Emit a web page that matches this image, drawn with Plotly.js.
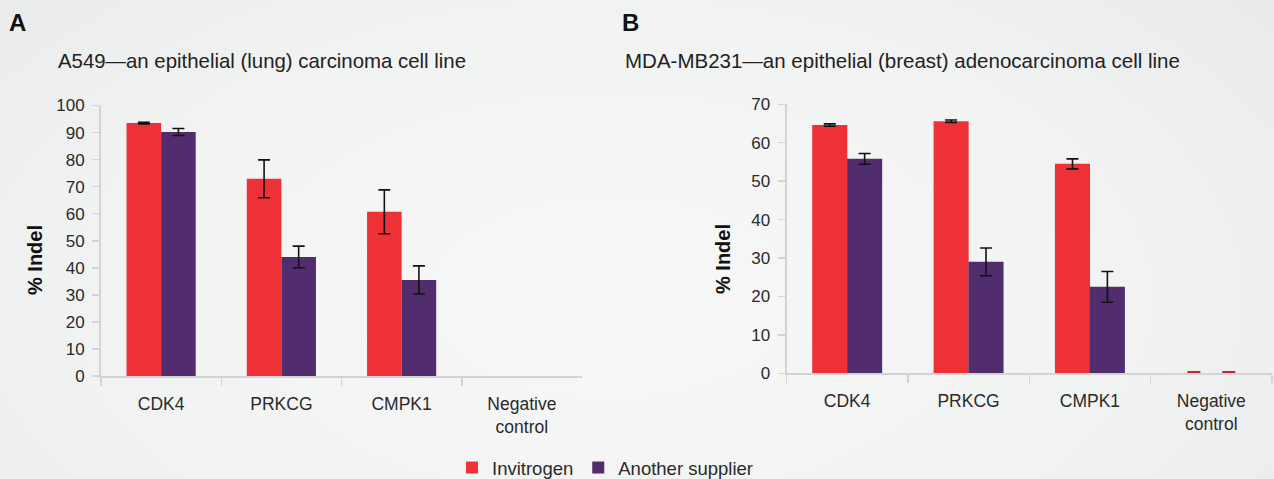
<!DOCTYPE html>
<html>
<head>
<meta charset="utf-8">
<script src="https://cdn.plot.ly/plotly-3.0.1.min.js"></script>
<style>
  html, body { margin: 0; padding: 0; }
  body {
    width: 1274px; height: 479px; overflow: hidden;
    background: radial-gradient(ellipse 75% 110% at 48% 62%, #f8f8f8 0%, #f1f2f2 55%, #e7e8e9 100%);
  }
  #chart { width: 1274px; height: 479px; }
</style>
</head>
<body>
<div id="chart"></div>
<script>
// ---- data ----
const categories = ['CDK4', 'PRKCG', 'CMPK1', 'Negative<br>control'];
const seriesNames = ['Invitrogen', 'Another supplier'];

// error arrays cover the three gene targets only (no error shown for the negative control)
const a549Invitrogen    = [93.5, 72.9, 60.7, 0];
const a549InvitrogenErr = [0.3, 7.0, 8.1];
const a549Other         = [90.2, 44.0, 35.5, 0];
const a549OtherErr      = [1.3, 4.0, 5.2];

const mdaInvitrogen     = [64.6, 65.6, 54.5, 0.6];
const mdaInvitrogenErr  = [0.3, 0.3, 1.3];
const mdaOther          = [55.8, 29.0, 22.5, 0.6];
const mdaOtherErr       = [1.4, 3.6, 4.0];

const panelTitles = ['A549\u2014an epithelial (lung) carcinoma cell line',
                     'MDA-MB231\u2014an epithelial (breast) adenocarcinoma cell line'];
const panelLetters = ['A', 'B'];
const yTitle = '% Indel';

// ---- style ----
const RED = '#ee3037';
const PURPLE = '#512d6d';
const NEG = '#c0283a';
const FONT = '"Liberation Sans", Arial, Helvetica, sans-serif';
const errStyle = { color: '#111111', thickness: 1.6, width: 6 };

function err(arr) { return Object.assign({ type: 'data', array: arr, visible: true }, errStyle); }

const traces = [
  { type: 'bar', name: seriesNames[0], x: categories, y: a549Invitrogen, xaxis: 'x', yaxis: 'y',
    marker: { color: RED }, error_y: err(a549InvitrogenErr), offsetgroup: '1', legendgroup: 'inv' },
  { type: 'bar', name: seriesNames[1], x: categories, y: a549Other, xaxis: 'x', yaxis: 'y',
    marker: { color: PURPLE }, error_y: err(a549OtherErr), offsetgroup: '2', legendgroup: 'oth' },
  { type: 'bar', name: seriesNames[0], x: categories, y: mdaInvitrogen, xaxis: 'x2', yaxis: 'y2',
    marker: { color: [RED, RED, RED, NEG] }, width: [0.289, 0.289, 0.289, 0.107],
    error_y: err(mdaInvitrogenErr), offsetgroup: '1', legendgroup: 'inv', showlegend: false },
  { type: 'bar', name: seriesNames[1], x: categories, y: mdaOther, xaxis: 'x2', yaxis: 'y2',
    marker: { color: [PURPLE, PURPLE, PURPLE, NEG] }, width: [0.289, 0.289, 0.289, 0.107],
    error_y: err(mdaOtherErr), offsetgroup: '2', legendgroup: 'oth', showlegend: false }
];

const xBase = {
  type: 'category', range: [-0.5, 3.5], showline: true, linecolor: '#d3d3d3', linewidth: 2,
  ticks: 'outside', tickson: 'boundaries', ticklen: 8, tickcolor: '#d3d3d3', tickwidth: 1.5,
  showgrid: false, zeroline: false, ticklabelstandoff: 11,
  tickfont: { family: FONT, size: 17.5, color: '#2a2a2a' }, fixedrange: true
};
const yBase = {
  showline: true, linecolor: '#d3d3d3', linewidth: 2, ticks: 'outside', ticklen: 7,
  tickcolor: '#d3d3d3', tickwidth: 1.5, showgrid: false, zeroline: false, dtick: 10,
  ticklabelstandoff: 4, tickfont: { family: FONT, size: 17, color: '#2a2a2a' }, fixedrange: true
};

const W = 1274, H = 479;
const layout = {
  width: W, height: H,
  margin: { l: 0, r: 0, t: 0, b: 0, autoexpand: false },
  paper_bgcolor: 'rgba(0,0,0,0)', plot_bgcolor: 'rgba(0,0,0,0)',
  barmode: 'group', bargap: 0.425, bargroupgap: 0,
  font: { family: FONT, color: '#222' },
  xaxis: Object.assign({}, xBase, { domain: [101 / W, 582 / W], anchor: 'y' }),
  yaxis: Object.assign({}, yBase, { domain: [(H - 376) / H, (H - 105.5) / H], range: [0, 100], anchor: 'x' }),
  xaxis2: Object.assign({}, xBase, { domain: [786.5 / W, 1272 / W], anchor: 'y2' }),
  yaxis2: Object.assign({}, yBase, { domain: [(H - 373.3) / H, (H - 104.3) / H], range: [0, 70], anchor: 'x2' }),
  showlegend: true,
  legend: {
    orientation: 'h', x: 605 / W, xanchor: 'center', y: 1 - 468 / H, yanchor: 'middle',
    font: { family: FONT, size: 18.5, color: '#2a2a2a' }, itemwidth: 30, bgcolor: 'rgba(0,0,0,0)'
  },
  annotations: [
    { text: '<b>' + panelLetters[0] + '</b>', xref: 'paper', yref: 'paper', x: 7 / W, y: 1 - 23 / H,
      xanchor: 'left', yanchor: 'middle', showarrow: false, font: { family: FONT, size: 24, color: '#111' } },
    { text: panelTitles[0], xref: 'paper', yref: 'paper', x: 56 / W, y: 1 - 61 / H,
      xanchor: 'left', yanchor: 'middle', showarrow: false, font: { family: FONT, size: 20.4, color: '#222' } },
    { text: '<b>' + panelLetters[1] + '</b>', xref: 'paper', yref: 'paper', x: 620 / W, y: 1 - 23 / H,
      xanchor: 'left', yanchor: 'middle', showarrow: false, font: { family: FONT, size: 24, color: '#111' } },
    { text: panelTitles[1], xref: 'paper', yref: 'paper', x: 623 / W, y: 1 - 61 / H,
      xanchor: 'left', yanchor: 'middle', showarrow: false, font: { family: FONT, size: 20.5, color: '#222' } },
    { text: '<b>' + yTitle + '</b>', xref: 'paper', yref: 'paper', x: 35 / W, y: 1 - 260 / H, textangle: -90,
      xanchor: 'center', yanchor: 'middle', showarrow: false, font: { family: FONT, size: 20, color: '#111' } },
    { text: '<b>' + yTitle + '</b>', xref: 'paper', yref: 'paper', x: 723 / W, y: 1 - 259 / H, textangle: -90,
      xanchor: 'center', yanchor: 'middle', showarrow: false, font: { family: FONT, size: 20, color: '#111' } }
  ]
};

Plotly.newPlot('chart', traces, layout, { displayModeBar: false, staticPlot: true });
</script>
</body>
</html>
